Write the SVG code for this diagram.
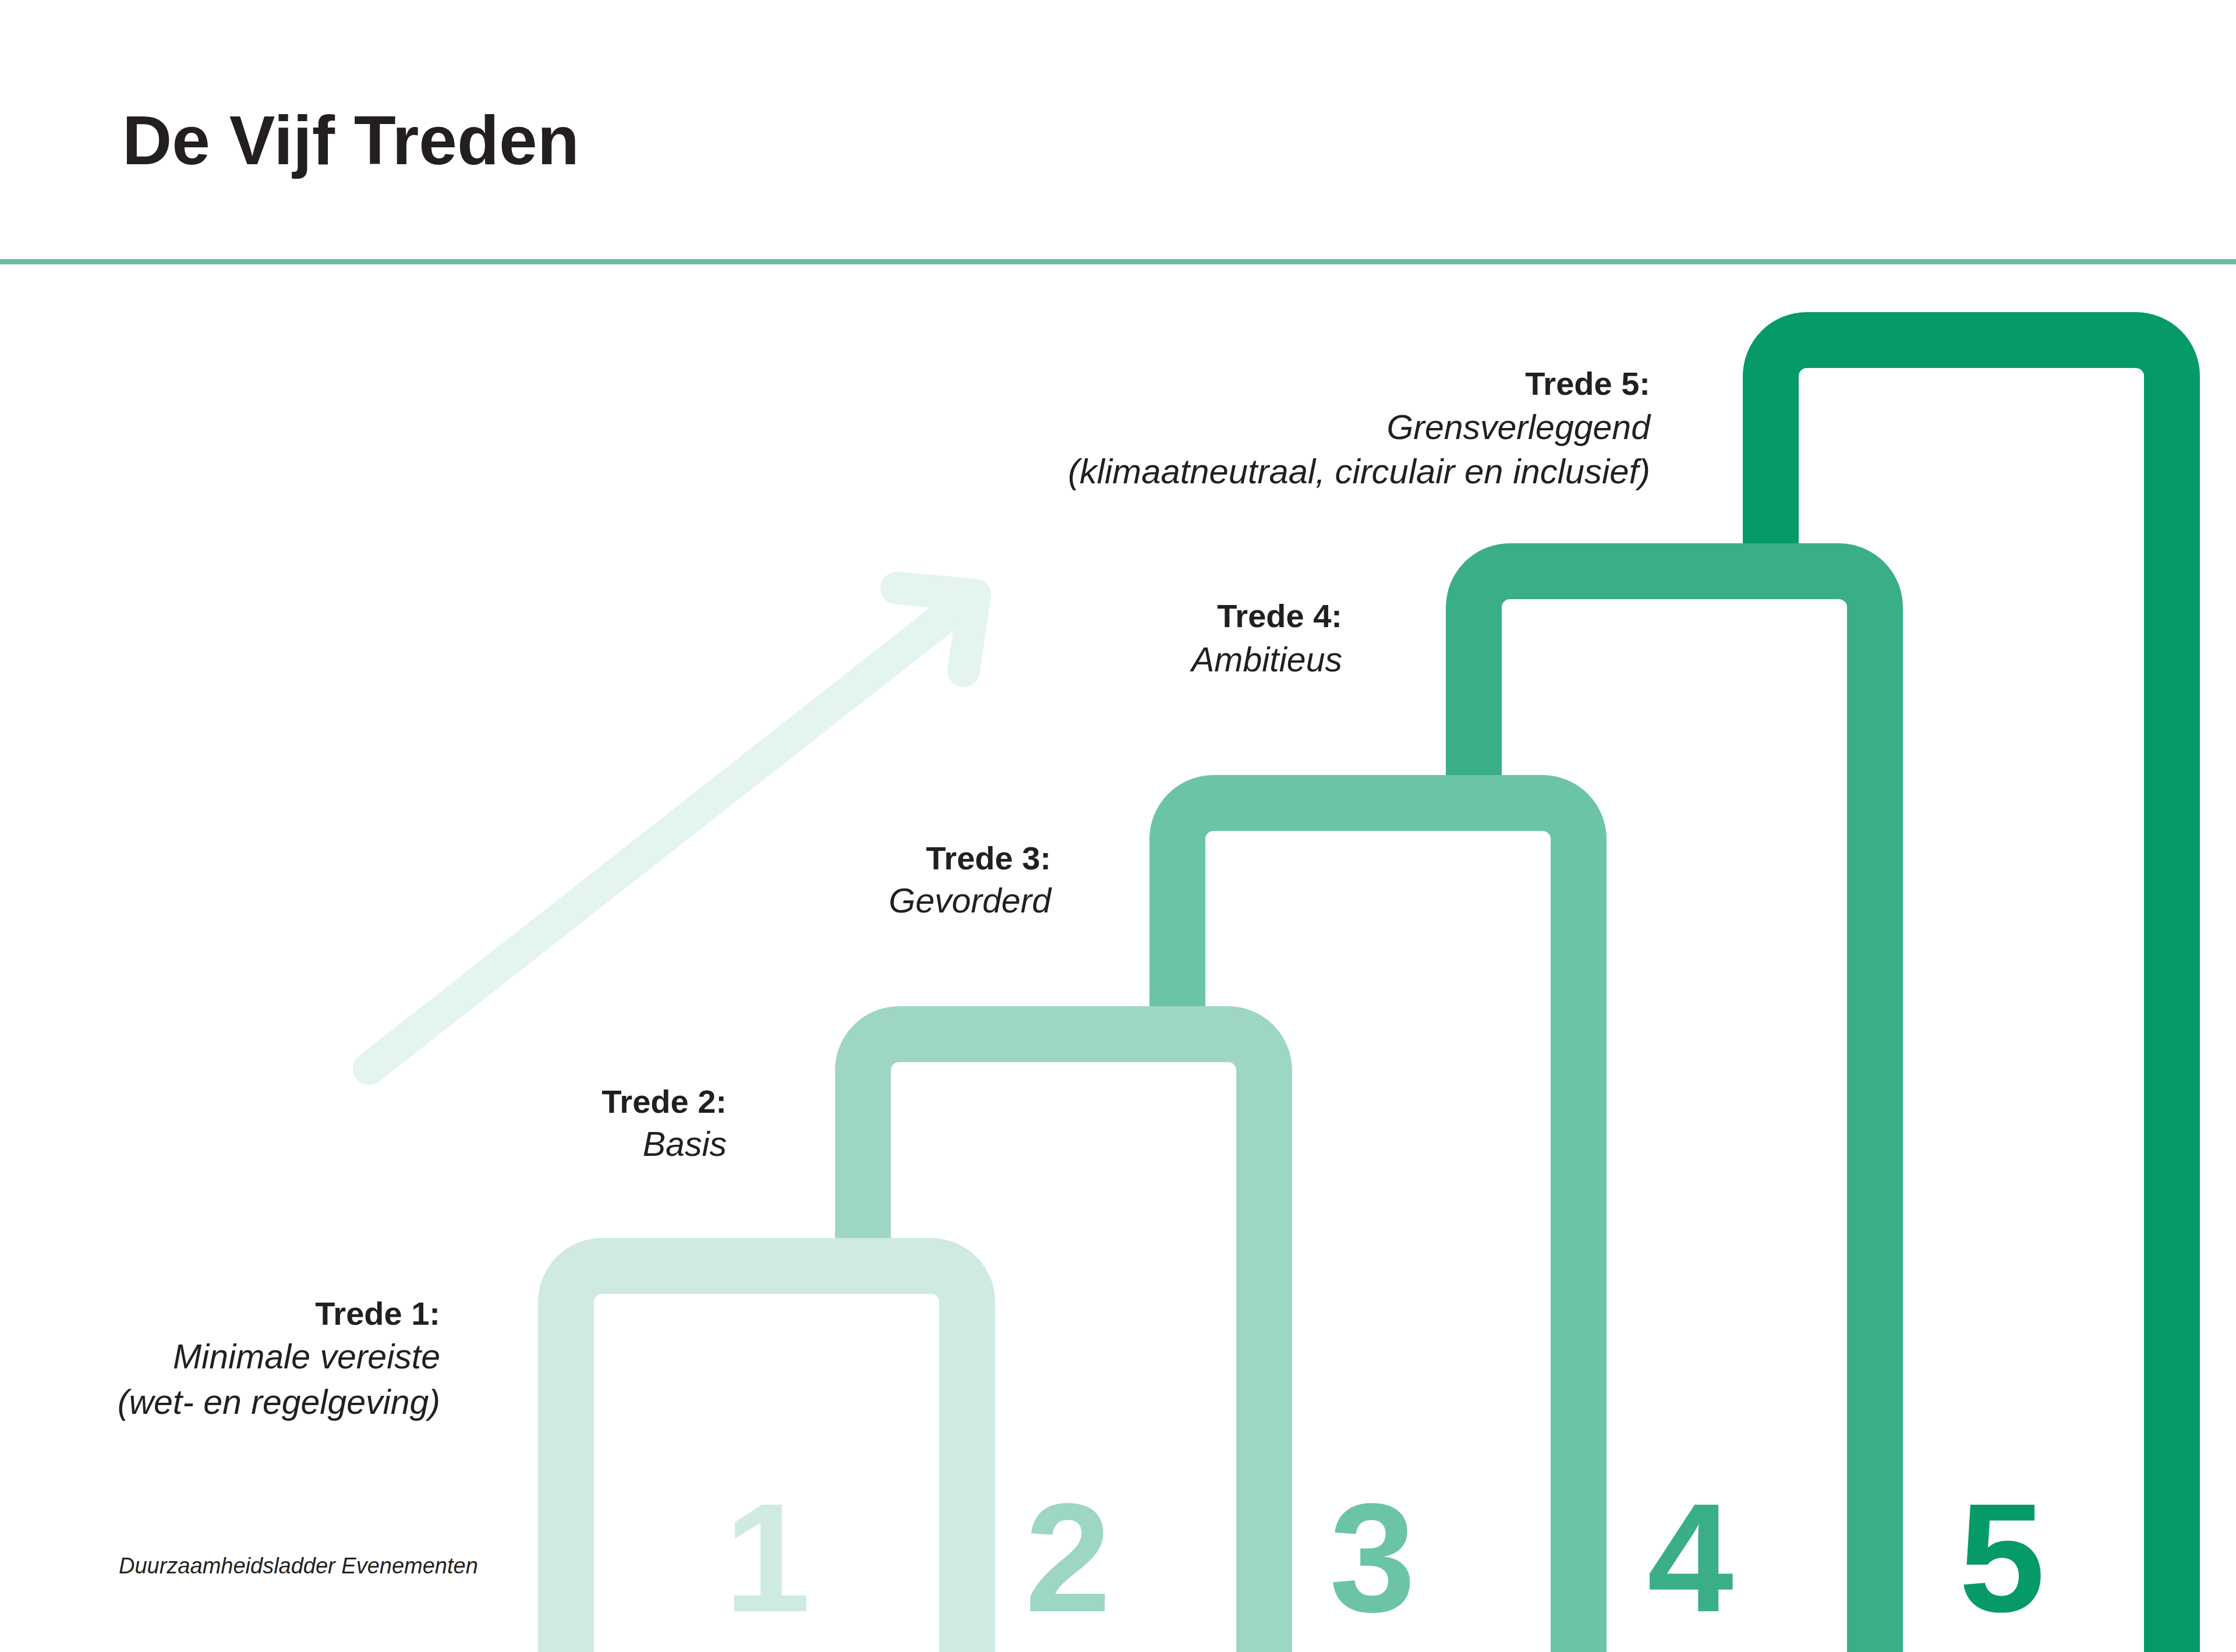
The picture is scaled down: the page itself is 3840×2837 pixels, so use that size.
<svg xmlns="http://www.w3.org/2000/svg" width="3840" height="2837" viewBox="0 0 3840 2837">
  <style>
    .frame { fill: #ffffff; stroke-width: 96; stroke-linejoin: round; }
    .digit { font-family: "Liberation Sans", Arial, sans-serif; font-weight: bold; font-size: 266px; text-anchor: middle; }
    .lbl { font-family: "Liberation Sans", Arial, sans-serif; font-size: 59px; fill: #231f20; text-anchor: end; }
    .lbl-b { font-weight: bold; font-size: 56px; }
    .lbl-i { font-style: italic; }
    .f1 { stroke: #cfeae0; } .d1 { fill: #cfeae0; }
    .f2 { stroke: #9dd7c4; } .d2 { fill: #9dd7c4; }
    .f3 { stroke: #6bc4a8; } .d3 { fill: #6bc4a8; }
    .f4 { stroke: #3aae88; } .d4 { fill: #3aae88; }
    .f5 { stroke: #069a6a; } .d5 { fill: #069a6a; }
  </style>
  <rect x="0" y="0" width="3840" height="2837" fill="#ffffff"/>

  <g id="header">
    <text x="210" y="282" font-family="'Liberation Sans', Arial, sans-serif" font-weight="bold" font-size="118" fill="#231f20">De Vijf Treden</text>
    <rect x="0" y="445" width="3840" height="9" fill="#6dbb9a"/>
  </g>

  <g id="arrow" fill="none" stroke="#e4f4ee" stroke-width="56" stroke-linecap="round" stroke-linejoin="round">
    <path d="M 634 1835 L 1670 1022"/>
    <path d="M 1540 1010 L 1674 1022 L 1655 1152"/>
  </g>

  <g id="connectors"></g>

  <g id="trede5">
    <path class="frame f5" d="M 3041 2900 V 646 A 62 62 0 0 1 3103 584 H 3668 A 62 62 0 0 1 3730 646 V 2900 Z"/>
  </g>
  <g id="trede4">
    <path class="frame f4" d="M 2531 2900 V 1043 A 62 62 0 0 1 2593 981 H 3158 A 62 62 0 0 1 3220 1043 V 2900 Z"/>
  </g>
  <g id="trede3">
    <path class="frame f3" d="M 2022 2900 V 1441 A 62 62 0 0 1 2084 1379 H 2649 A 62 62 0 0 1 2711 1441 V 2900 Z"/>
  </g>
  <g id="trede2">
    <path class="frame f2" d="M 1482 2900 V 1838 A 62 62 0 0 1 1544 1776 H 2109 A 62 62 0 0 1 2171 1838 V 2900 Z"/>
  </g>
  <g id="trede1">
    <path class="frame f1" d="M 972 2900 V 2236 A 62 62 0 0 1 1034 2174 H 1599 A 62 62 0 0 1 1661 2236 V 2900 Z"/>
  </g>

  <g id="digits">
    <text class="digit d1" x="1318" y="2767">1</text>
    <text class="digit d2" x="1834" y="2767">2</text>
    <text class="digit d3" x="2357" y="2767">3</text>
    <text class="digit d4" x="2903" y="2767">4</text>
    <text class="digit d5" x="3438" y="2767">5</text>
  </g>

  <g id="label5" class="lbl">
    <text class="lbl-b" x="2834" y="678">Trede 5:</text>
    <text class="lbl-i" x="2834" y="754">Grensverleggend</text>
    <text class="lbl-i" x="2834" y="830" textLength="1000" lengthAdjust="spacingAndGlyphs">(klimaatneutraal, circulair en inclusief)</text>
  </g>
  <g id="label4" class="lbl">
    <text class="lbl-b" x="2305" y="1077">Trede 4:</text>
    <text class="lbl-i" x="2305" y="1153">Ambitieus</text>
  </g>
  <g id="label3" class="lbl">
    <text class="lbl-b" x="1805" y="1493">Trede 3:</text>
    <text class="lbl-i" x="1805" y="1567">Gevorderd</text>
  </g>
  <g id="label2" class="lbl">
    <text class="lbl-b" x="1248" y="1911">Trede 2:</text>
    <text class="lbl-i" x="1248" y="1985">Basis</text>
  </g>
  <g id="label1" class="lbl">
    <text class="lbl-b" x="756" y="2275">Trede 1:</text>
    <text class="lbl-i" x="756" y="2350">Minimale vereiste</text>
    <text class="lbl-i" x="756" y="2428">(wet- en regelgeving)</text>
  </g>

  <g id="footer">
    <text x="204" y="2702" font-family="'Liberation Sans', Arial, sans-serif" font-style="italic" font-size="38" fill="#231f20">Duurzaamheidsladder Evenementen</text>
  </g>
</svg>
